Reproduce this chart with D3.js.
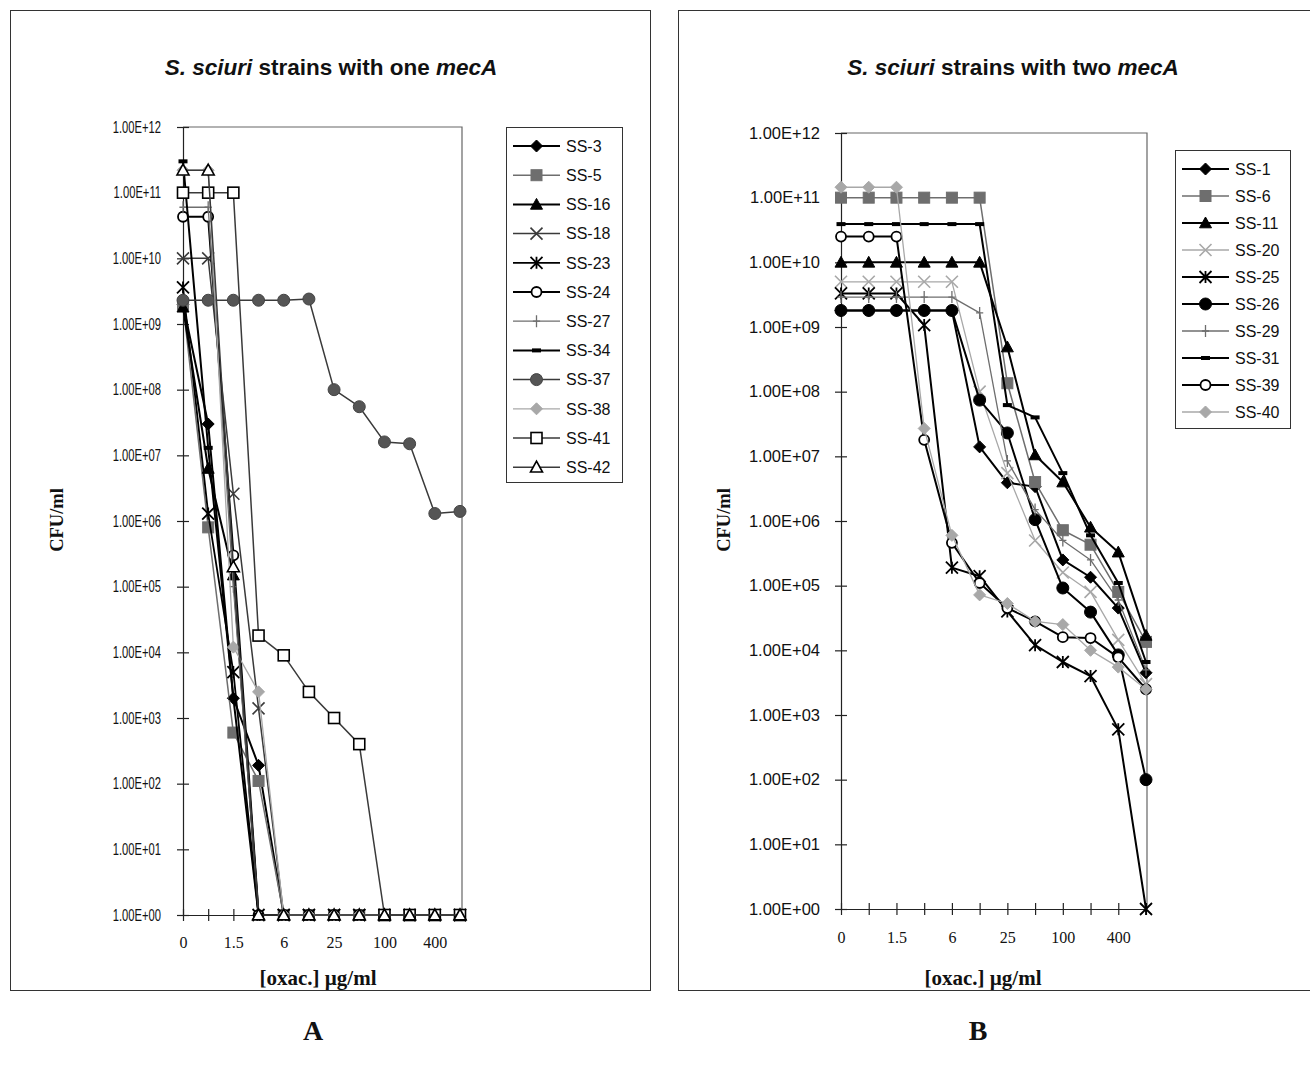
<!DOCTYPE html>
<html>
<head>
<meta charset="utf-8">
<script src="https://cdn.jsdelivr.net/npm/d3@7"></script>
<style>
  html, body { margin: 0; padding: 0; background: #fff; }
  svg { display: block; }
</style>
</head>
<body>
<svg id="chart" width="1310" height="1065"></svg>
<script>
// ---------------- DATA ----------------
const xCategories = ["0", "0.75", "1.5", "3", "6", "12", "25", "50", "100", "200", "400", "800"];
const xTickLabels = ["0", "", "1.5", "", "6", "", "25", "", "100", "", "400", ""];
const yTickValues = [1, 1e1, 1e2, 1e3, 1e4, 1e5, 1e6, 1e7, 1e8, 1e9, 1e10, 1e11, 1e12];
const yTickLabels = ["1.00E+00", "1.00E+01", "1.00E+02", "1.00E+03", "1.00E+04", "1.00E+05",
  "1.00E+06", "1.00E+07", "1.00E+08", "1.00E+09", "1.00E+10", "1.00E+11", "1.00E+12"];

// Panel A: S. sciuri strains with one mecA (CFU/ml per oxacillin concentration)
const seriesNamesA = ["SS-3", "SS-5", "SS-16", "SS-18", "SS-23", "SS-24", "SS-27", "SS-34", "SS-37", "SS-38", "SS-41", "SS-42"];
const ss3  = [2.0e9, 3.0e7, 2.0e3, 1.9e2, 1, 1, 1, 1, 1, 1, 1, 1];
const ss5  = [2.0e9, 8.0e5, 6.0e2, 1.1e2, 1, 1, 1, 1, 1, 1, 1, 1];
const ss16 = [1.8e9, 6.3e6, 1.5e5, 1, 1, 1, 1, 1, 1, 1, 1, 1];
const ss18 = [1.0e10, 1.0e10, 2.6e6, 1.4e3, 1, 1, 1, 1, 1, 1, 1, 1];
const ss23 = [3.6e9, 1.3e6, 5.0e3, 1, 1, 1, 1, 1, 1, 1, 1, 1];
const ss24 = [4.3e10, 4.3e10, 3.0e5, 1, 1, 1, 1, 1, 1, 1, 1, 1];
const ss27 = [6.0e10, 6.0e10, 1.0e5, 1, 1, 1, 1, 1, 1, 1, 1, 1];
const ss34 = [3.0e11, 1.3e7, 2.0e3, 1, 1, 1, 1, 1, 1, 1, 1, 1];
const ss37 = [2.3e9, 2.3e9, 2.3e9, 2.3e9, 2.3e9, 2.4e9, 1.0e8, 5.5e7, 1.6e7, 1.5e7, 1.3e6, 1.4e6];
const ss38 = [2.2e11, 2.2e11, 1.2e4, 2.5e3, 1, 1, 1, 1, 1, 1, 1, 1];
const ss41 = [1.0e11, 1.0e11, 1.0e11, 1.8e4, 9.0e3, 2.5e3, 1.0e3, 4.0e2, 1, 1, 1, 1];
const ss42 = [2.2e11, 2.2e11, 2.0e5, 1, 1, 1, 1, 1, 1, 1, 1, 1];
const valuesA = [ss3, ss5, ss16, ss18, ss23, ss24, ss27, ss34, ss37, ss38, ss41, ss42];

// Panel B: S. sciuri strains with two mecA
const seriesNamesB = ["SS-1", "SS-6", "SS-11", "SS-20", "SS-25", "SS-26", "SS-29", "SS-31", "SS-39", "SS-40"];
const ss1  = [1.8e9, 1.8e9, 1.8e9, 1.8e9, 1.8e9, 1.4e7, 3.9e6, 3.4e6, 2.5e5, 1.35e5, 4.5e4, 4.5e3];
const ss6  = [1.0e11, 1.0e11, 1.0e11, 1.0e11, 1.0e11, 1.0e11, 1.35e8, 4.0e6, 7.2e5, 4.3e5, 8.0e4, 1.35e4];
const ss11 = [1.0e10, 1.0e10, 1.0e10, 1.0e10, 1.0e10, 1.0e10, 4.9e8, 1.05e7, 4.0e6, 8.0e5, 3.3e5, 1.7e4];
const ss20 = [5.0e9, 5.0e9, 5.0e9, 5.0e9, 5.0e9, 1.0e8, 5.5e6, 5.0e5, 1.6e5, 8.0e4, 1.45e4, 3.0e3];
const ss25 = [3.3e9, 3.3e9, 3.3e9, 1.07e9, 1.9e5, 1.4e5, 4.0e4, 1.2e4, 6.6e3, 4.0e3, 6.0e2, 1];
const ss26 = [1.8e9, 1.8e9, 1.8e9, 1.8e9, 1.8e9, 7.4e7, 2.3e7, 1.05e6, 9.2e4, 3.9e4, 8.5e3, 1.0e2];
const ss29 = [2.9e9, 2.9e9, 2.9e9, 2.9e9, 2.9e9, 1.65e9, 8.5e6, 1.5e6, 5.0e5, 2.5e5, 6.0e4, 5.0e3];
const ss31 = [3.9e10, 3.9e10, 3.9e10, 3.9e10, 3.9e10, 3.9e10, 6.2e7, 4.0e7, 5.5e6, 6.0e5, 1.1e5, 6.6e3];
const ss39 = [2.5e10, 2.5e10, 2.5e10, 1.8e7, 4.6e5, 1.1e5, 4.5e4, 2.8e4, 1.6e4, 1.55e4, 7.8e3, 2.5e3];
const ss40 = [1.45e11, 1.45e11, 1.45e11, 2.7e7, 6.0e5, 7.2e4, 5.3e4, 2.8e4, 2.5e4, 1.0e4, 5.5e3, 2.5e3];
const valuesB = [ss1, ss6, ss11, ss20, ss25, ss26, ss29, ss31, ss39, ss40];

// ---------------- STYLES ----------------
const BLACK = "#000", DARK = "#3a3a3a", GRAY = "#6e6e6e", LIGHT = "#a8a8a8";
const stylesA = [
  { marker: "diamond", line: BLACK, fill: BLACK, stroke: BLACK, w: 2 },
  { marker: "square", line: GRAY, fill: GRAY, stroke: GRAY, w: 1.5 },
  { marker: "triangle", line: BLACK, fill: BLACK, stroke: BLACK, w: 2 },
  { marker: "x", line: DARK, fill: "none", stroke: DARK, w: 1.5 },
  { marker: "asterisk", line: BLACK, fill: "none", stroke: BLACK, w: 1.8 },
  { marker: "circle", line: BLACK, fill: "#fff", stroke: BLACK, w: 2.2 },
  { marker: "plus", line: GRAY, fill: "none", stroke: GRAY, w: 1.3 },
  { marker: "dash", line: BLACK, fill: BLACK, stroke: BLACK, w: 2 },
  { marker: "bigcircle", line: DARK, fill: "#555", stroke: "#444", w: 1.5 },
  { marker: "diamond", line: LIGHT, fill: LIGHT, stroke: LIGHT, w: 1.3 },
  { marker: "square", line: DARK, fill: "#fff", stroke: BLACK, w: 1.5, open: true },
  { marker: "triangle", line: DARK, fill: "#fff", stroke: BLACK, w: 1.5, open: true }
];
const stylesB = [
  { marker: "diamond", line: BLACK, fill: BLACK, stroke: BLACK, w: 2 },
  { marker: "square", line: GRAY, fill: GRAY, stroke: GRAY, w: 1.5 },
  { marker: "triangle", line: BLACK, fill: BLACK, stroke: BLACK, w: 2 },
  { marker: "x", line: LIGHT, fill: "none", stroke: LIGHT, w: 1.3 },
  { marker: "asterisk", line: BLACK, fill: "none", stroke: BLACK, w: 2 },
  { marker: "bigcircle", line: BLACK, fill: BLACK, stroke: BLACK, w: 2 },
  { marker: "plus", line: GRAY, fill: "none", stroke: GRAY, w: 1.3 },
  { marker: "dash", line: BLACK, fill: BLACK, stroke: BLACK, w: 2 },
  { marker: "circle", line: BLACK, fill: "#fff", stroke: BLACK, w: 2 },
  { marker: "diamond", line: LIGHT, fill: LIGHT, stroke: LIGHT, w: 1.3 }
];

const svg = d3.select("#chart");
const SANS = "'Liberation Sans', Arial, sans-serif";
const SERIF = "'Liberation Serif', 'Times New Roman', serif";

function drawMarker(g, type, st, s) {
  s = s || 6;
  switch (type) {
    case "diamond":
      g.append("path").attr("d", `M0,${-s}L${s},0L0,${s}L${-s},0Z`).attr("fill", st.fill).attr("stroke", st.stroke).attr("stroke-width", 1);
      break;
    case "square":
      g.append("rect").attr("x", -s + 0.5).attr("y", -s + 0.5).attr("width", 2 * s - 1).attr("height", 2 * s - 1)
        .attr("fill", st.fill).attr("stroke", st.stroke).attr("stroke-width", st.open ? 1.6 : 1);
      break;
    case "triangle":
      g.append("path").attr("d", `M0,${-s}L${s},${s * 0.8}L${-s},${s * 0.8}Z`).attr("fill", st.fill).attr("stroke", st.stroke).attr("stroke-width", st.open ? 1.6 : 1);
      break;
    case "x":
      g.append("path").attr("d", `M${-s},${-s}L${s},${s}M${-s},${s}L${s},${-s}`).attr("stroke", st.stroke).attr("stroke-width", 1.6).attr("fill", "none");
      break;
    case "asterisk":
      g.append("path").attr("d", `M${-s},${-s}L${s},${s}M${-s},${s}L${s},${-s}M0,${-s}L0,${s}`).attr("stroke", st.stroke).attr("stroke-width", 1.8).attr("fill", "none");
      break;
    case "plus":
      g.append("path").attr("d", `M0,${-s}L0,${s}M${-s * 0.6},0L${s * 0.6},0`).attr("stroke", st.stroke).attr("stroke-width", 1.3).attr("fill", "none");
      break;
    case "dash":
      g.append("rect").attr("x", -4.5).attr("y", -2).attr("width", 9).attr("height", 4).attr("fill", st.fill);
      break;
    case "circle":
      g.append("circle").attr("r", s - 1).attr("fill", st.fill).attr("stroke", st.stroke).attr("stroke-width", 1.8);
      break;
    case "bigcircle":
      g.append("circle").attr("r", s).attr("fill", st.fill).attr("stroke", st.stroke).attr("stroke-width", 1);
      break;
  }
}

function drawPanel(cfg) {
  const g = svg.append("g");
  // outer frame
  g.append("rect").attr("x", cfg.frame[0] + 0.5).attr("y", cfg.frame[1] + 0.5)
    .attr("width", cfg.frame[2]).attr("height", cfg.frame[3])
    .attr("fill", "none").attr("stroke", "#333").attr("stroke-width", 1);

  const x = d3.scalePoint().domain(xCategories).range([cfg.x0, cfg.x1]).padding(0);
  const y = d3.scaleLog().domain([1, 1e12]).range([cfg.yBot, cfg.yTop]);

  // plot area border (top & right)
  g.append("path").attr("d", `M${cfg.x0},${cfg.yTop}H${cfg.xr}V${cfg.yBot}`)
    .attr("fill", "none").attr("stroke", "#666").attr("stroke-width", 1.2);

  // Y axis
  const yAxis = d3.axisLeft(y).tickValues(yTickValues).tickSizeInner(6).tickSizeOuter(0)
    .tickFormat((d, i) => yTickLabels[i]);
  const ya = g.append("g").attr("transform", `translate(${cfg.x0},0)`).call(yAxis);
  ya.select(".domain").attr("stroke", "#222").attr("stroke-width", 1.2);
  ya.selectAll(".tick line").attr("x1", -6).attr("x2", 6).attr("stroke", "#222").attr("stroke-width", 1.2);
  ya.selectAll(".tick text").attr("x", 0)
    .attr("transform", `translate(${-(cfg.x0 - cfg.yLabelRight)},0) scale(${cfg.yLabelScale},1)`)
    .attr("font-family", SANS).attr("font-size", cfg.yLabelSize).attr("fill", "#111");

  // X axis
  const xAxis = d3.axisBottom(x).tickSizeInner(6).tickSizeOuter(0)
    .tickFormat((d, i) => xTickLabels[i]);
  const xa = g.append("g").attr("transform", `translate(0,${cfg.yBot})`).call(xAxis);
  xa.select(".domain").attr("stroke", "#222").attr("stroke-width", 1.2);
  xa.selectAll(".tick line").attr("y1", -6).attr("y2", 6).attr("stroke", "#222").attr("stroke-width", 1.2);
  xa.selectAll(".tick text").attr("y", cfg.xLabelDy).attr("dy", 0)
    .attr("font-family", SERIF).attr("font-size", 16).attr("fill", "#111");

  // series
  cfg.values.forEach((vals, si) => {
    const st = cfg.styles[si];
    const line = d3.line().x((d, i) => x(xCategories[i])).y(d => y(d));
    g.append("path").datum(vals).attr("d", line)
      .attr("fill", "none").attr("stroke", st.line).attr("stroke-width", st.w).attr("stroke-linejoin", "round");
    vals.forEach((v, i) => {
      const mg = g.append("g").attr("transform", `translate(${x(xCategories[i])},${y(v)})`);
      drawMarker(mg, st.marker, st, 6);
    });
  });

  // legend
  const lg = g.append("g");
  lg.append("rect").attr("x", cfg.legend.x + 0.5).attr("y", cfg.legend.y + 0.5)
    .attr("width", cfg.legend.w).attr("height", cfg.legend.h)
    .attr("fill", "#fff").attr("stroke", "#333").attr("stroke-width", 1);
  cfg.names.forEach((name, i) => {
    const st = cfg.styles[i];
    const cy = cfg.legend.first + i * cfg.legend.step;
    const lx = cfg.legend.x + 7;
    lg.append("line").attr("x1", lx).attr("x2", lx + 47).attr("y1", cy).attr("y2", cy)
      .attr("stroke", st.line).attr("stroke-width", st.w);
    const mg = lg.append("g").attr("transform", `translate(${lx + 23.5},${cy})`);
    drawMarker(mg, st.marker, st, 6);
    lg.append("text").attr("x", lx + 53).attr("y", cy).attr("dy", "0.36em")
      .attr("font-family", SANS).attr("font-size", 16).attr("fill", "#111").text(name);
  });

  // title
  const t = g.append("text").attr("x", cfg.titleX).attr("y", 75).attr("text-anchor", "middle")
    .attr("font-family", SANS).attr("font-weight", "bold").attr("font-size", 22.5).attr("fill", "#111");
  t.append("tspan").attr("font-style", "italic").text("S. sciuri");
  t.append("tspan").text(cfg.titleMid);
  t.append("tspan").attr("font-style", "italic").text("mecA");

  // axis titles
  g.append("text").attr("transform", `translate(${cfg.yTitleX},${cfg.yTitleY}) rotate(-90)`)
    .attr("text-anchor", "middle").attr("font-family", SERIF).attr("font-weight", "bold")
    .attr("font-size", 18.5).attr("fill", "#111").text("CFU/ml");
  g.append("text").attr("x", cfg.xTitleX).attr("y", 985).attr("text-anchor", "middle")
    .attr("font-family", SERIF).attr("font-weight", "bold").attr("font-size", 21).attr("fill", "#111")
    .text("[oxac.] \u00b5g/ml");

  // panel letter
  g.append("text").attr("x", cfg.letterX).attr("y", 1040).attr("text-anchor", "middle")
    .attr("font-family", SERIF).attr("font-weight", "bold").attr("font-size", 28).attr("fill", "#111")
    .text(cfg.letter);
}

drawPanel({
  frame: [10, 10, 640, 980],
  x0: 183, x1: 460, xr: 462, yTop: 127, yBot: 915, yLabelRight: 161, xLabelDy: 33,
  yLabelSize: 16, yLabelScale: 0.7,
  values: valuesA, styles: stylesA, names: seriesNamesA,
  legend: { x: 506, y: 127, w: 116, h: 355, first: 146, step: 29.2 },
  titleX: 331, titleMid: " strains with one ",
  yTitleX: 63, yTitleY: 520, xTitleX: 318, letter: "A", letterX: 313
});
drawPanel({
  frame: [678, 10, 640, 980],
  x0: 841, x1: 1146, xr: 1147, yTop: 133, yBot: 909, yLabelRight: 820, xLabelDy: 34,
  yLabelSize: 16.5, yLabelScale: 1,
  values: valuesB, styles: stylesB, names: seriesNamesB,
  legend: { x: 1175, y: 150, w: 115, h: 278, first: 169, step: 27 },
  titleX: 1013, titleMid: " strains with two ",
  yTitleX: 730, yTitleY: 520, xTitleX: 983, letter: "B", letterX: 978
});
</script>
</body>
</html>
